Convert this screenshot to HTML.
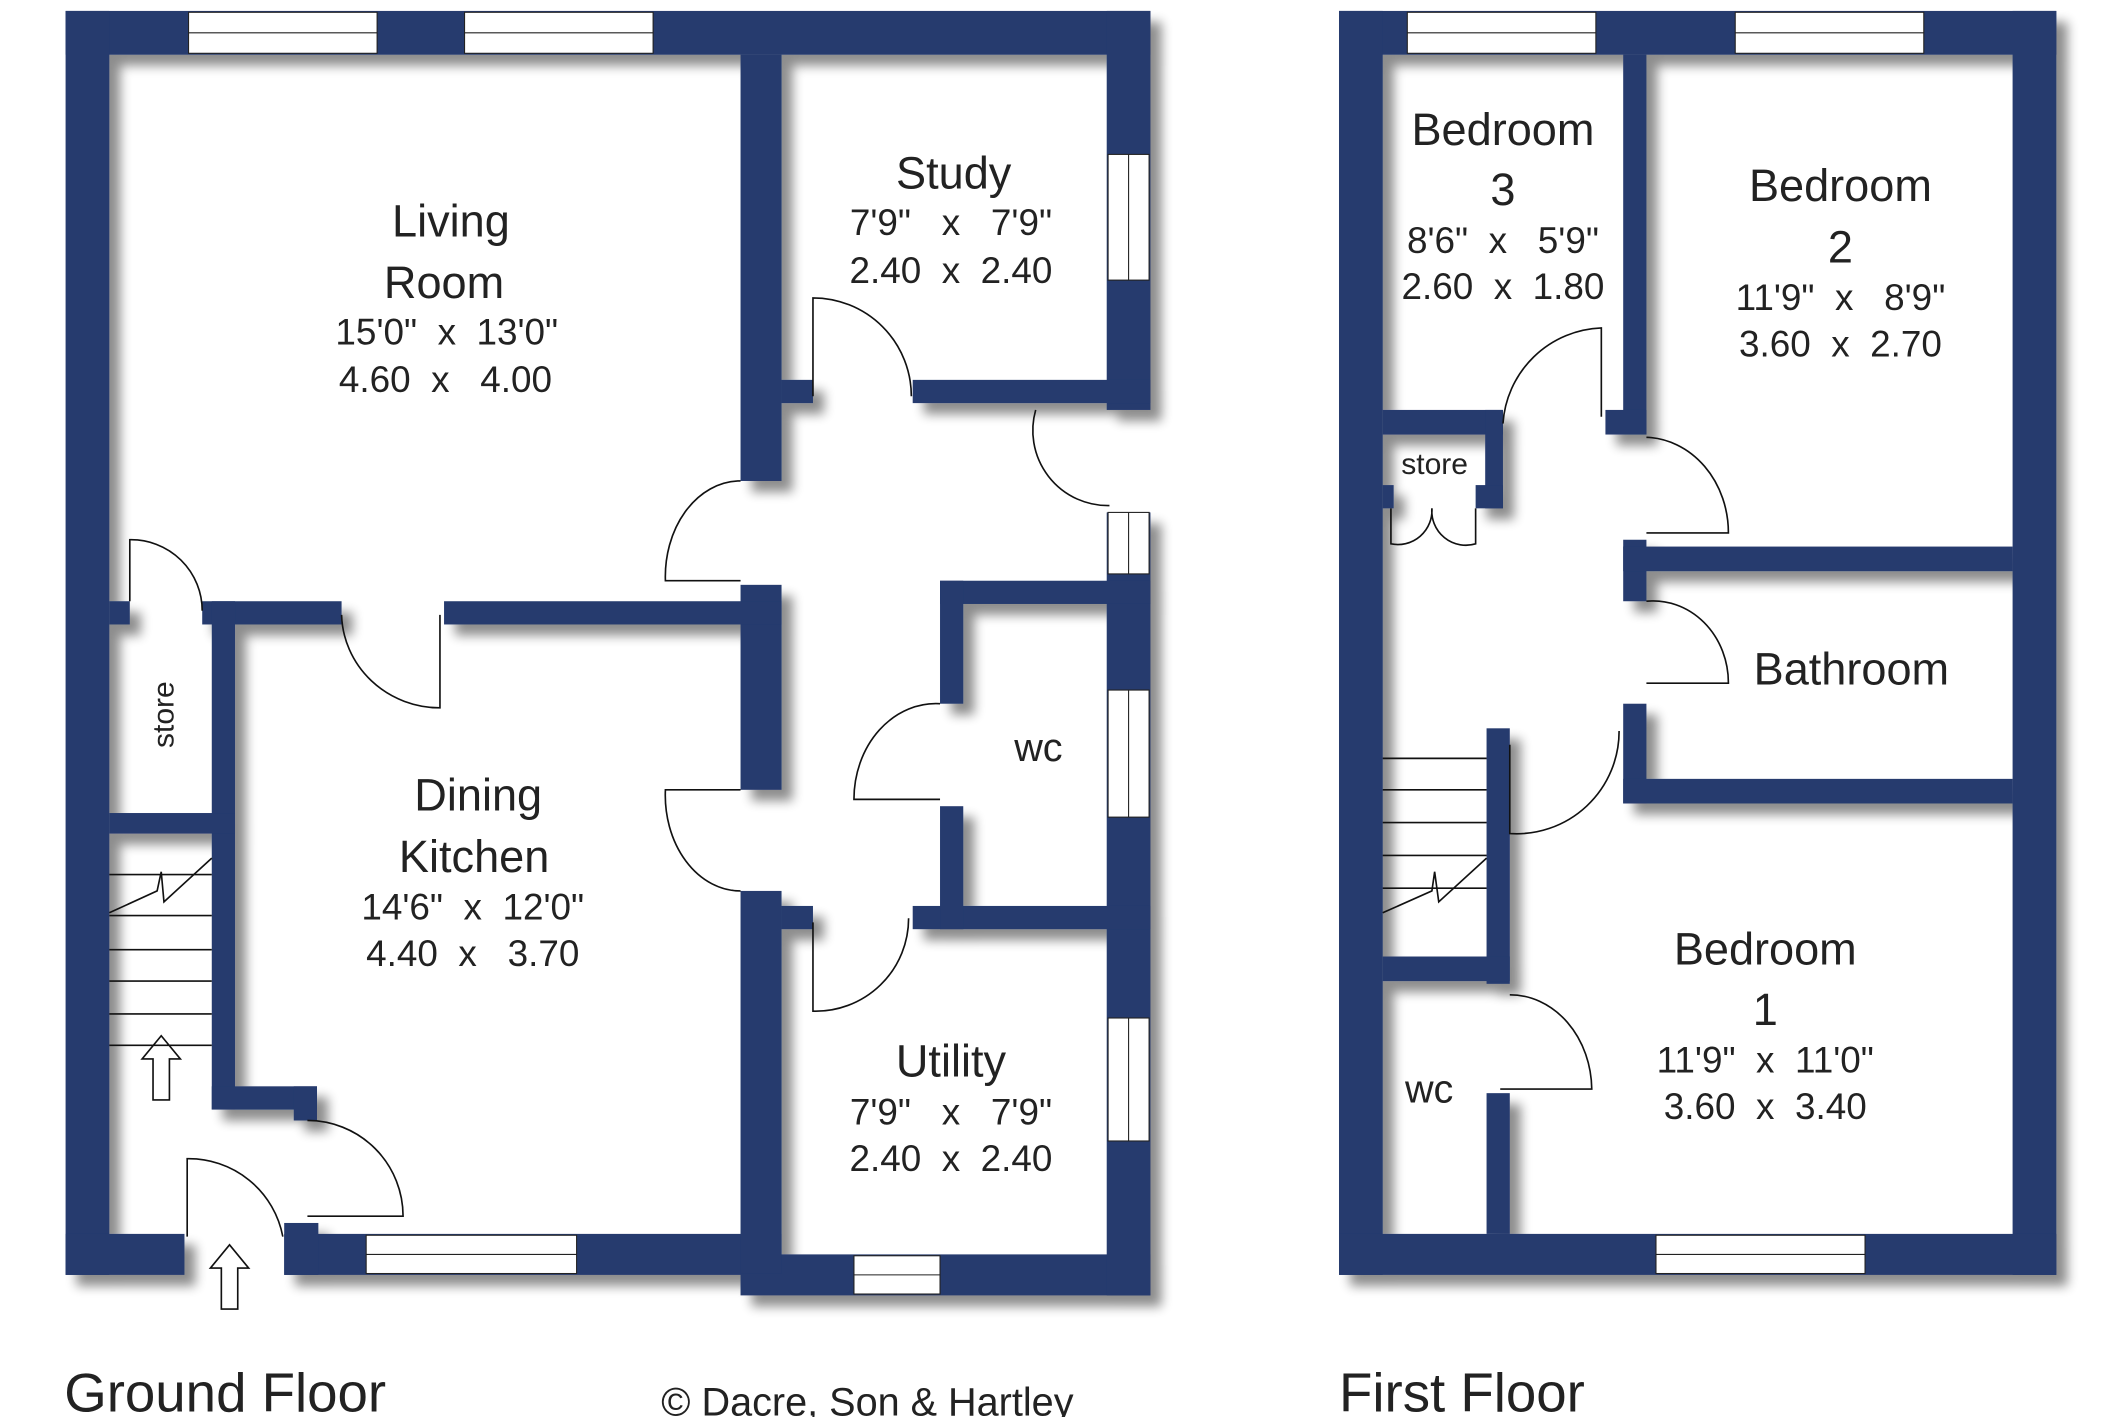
<!DOCTYPE html>
<html><head><meta charset="utf-8"><style>
html,body{margin:0;padding:0;background:#fff;}
svg{display:block;}
text{font-family:"Liberation Sans","DejaVu Sans",sans-serif;fill:#222;white-space:pre;}
</style></head><body>
<svg width="2126" height="1417" viewBox="0 0 1556 1037" preserveAspectRatio="none" xmlns="http://www.w3.org/2000/svg" xml:space="preserve">
<defs>
<filter id="sh" x="-10%" y="-10%" width="130%" height="130%">
<feGaussianBlur in="SourceAlpha" stdDeviation="4"/>
<feOffset dx="8" dy="8"/>
<feComponentTransfer><feFuncA type="linear" slope="0.45"/></feComponentTransfer>
<feMerge><feMergeNode/><feMergeNode in="SourceGraphic"/></feMerge>
</filter>
</defs>
<g fill="#253a6e" filter="url(#sh)">
<rect x="48" y="8" width="794" height="32"/>
<rect x="48" y="8" width="32" height="925"/>
<rect x="48" y="903" width="87" height="30"/>
<rect x="208" y="903" width="364" height="30"/>
<rect x="542" y="918" width="300" height="30"/>
<rect x="810" y="8" width="32" height="292"/>
<rect x="810" y="375" width="32" height="573"/>
<rect x="542" y="40" width="30" height="312"/>
<rect x="572" y="278" width="23" height="17"/>
<rect x="668" y="278" width="174" height="17"/>
<rect x="542" y="428" width="30" height="150"/>
<rect x="542" y="652" width="30" height="280"/>
<rect x="572" y="663" width="23" height="17"/>
<rect x="668" y="663" width="174" height="17"/>
<rect x="688" y="425" width="154" height="17"/>
<rect x="688" y="425" width="17" height="90"/>
<rect x="688" y="590" width="17" height="90"/>
<rect x="80" y="440" width="15" height="17"/>
<rect x="148" y="440" width="102" height="17"/>
<rect x="325" y="440" width="247" height="17"/>
<rect x="155" y="440" width="17" height="372"/>
<rect x="80" y="595" width="92" height="15"/>
<rect x="155" y="795" width="77" height="17"/>
<rect x="215" y="795" width="17" height="25"/>
<rect x="208" y="895" width="25" height="38"/>
<rect x="980" y="8" width="525" height="32"/>
<rect x="980" y="8" width="32" height="925"/>
<rect x="1473" y="8" width="32" height="925"/>
<rect x="980" y="903" width="525" height="30"/>
<rect x="1188" y="40" width="17" height="278"/>
<rect x="1175" y="300" width="30" height="18"/>
<rect x="1012" y="300" width="88" height="18"/>
<rect x="1087" y="300" width="13" height="72"/>
<rect x="1080" y="355" width="20" height="17"/>
<rect x="1012" y="355" width="8" height="17"/>
<rect x="1188" y="395" width="17" height="45"/>
<rect x="1188" y="400" width="285" height="18"/>
<rect x="1188" y="515" width="17" height="73"/>
<rect x="1188" y="570" width="285" height="18"/>
<rect x="1088" y="533" width="17" height="187"/>
<rect x="1012" y="700" width="93" height="18"/>
<rect x="1088" y="800" width="17" height="103"/>
</g>
<g fill="#fff" stroke="#222" stroke-width="0.8">
<rect x="138" y="9" width="138" height="30"/><rect x="340" y="9" width="138" height="30"/>
<rect x="811" y="113" width="30" height="92"/><rect x="811" y="375" width="30" height="45"/>
<rect x="811" y="505" width="30" height="93"/><rect x="811" y="745" width="30" height="90"/>
<rect x="268" y="904" width="154" height="28"/><rect x="625" y="919" width="63" height="28"/>
<rect x="1030" y="9" width="138" height="30"/><rect x="1270" y="9" width="138" height="30"/>
<rect x="1212" y="904" width="153" height="28"/>
</g>
<g stroke="#222" stroke-width="0.8">
<line x1="138" y1="24" x2="276" y2="24"/><line x1="340" y1="24" x2="478" y2="24"/>
<line x1="826" y1="113" x2="826" y2="205"/><line x1="826" y1="375" x2="826" y2="420"/>
<line x1="826" y1="505" x2="826" y2="598"/><line x1="826" y1="745" x2="826" y2="835"/>
<line x1="268" y1="918" x2="422" y2="918"/><line x1="625" y1="933" x2="688" y2="933"/>
<line x1="1030" y1="24" x2="1168" y2="24"/><line x1="1270" y1="24" x2="1408" y2="24"/>
<line x1="1212" y1="918" x2="1365" y2="918"/>
</g>
<g fill="none" stroke="#111" stroke-width="1.2">
<path d="M595 290 V218 A72 72 0 0 1 667 290"/>
<path d="M758 300 A55 55 0 0 0 812 370"/>
<path d="M542 352 H540 A55 70 0 0 0 487 425 H542"/>
<path d="M250 450 A72 70 0 0 0 322 518 V450"/>
<path d="M95 440 V395 A52 52 0 0 1 148 447"/>
<path d="M542 578 H487 A55 70 0 0 0 542 652"/>
<path d="M688 515 A60 70 0 0 0 625 585 H688"/>
<path d="M595 675 V740 A68 68 0 0 0 665 672"/>
<path d="M225 820 A70 70 0 0 1 295 890 H225"/>
<path d="M137 905 V848 A70 70 0 0 1 207 905"/>
<path d="M1100 310 A75 75 0 0 1 1172 240 V305"/>
<path d="M1205 320 A62 70 0 0 1 1265 390 H1205"/>
<path d="M1205 440 A55 60 0 0 1 1265 500 H1205"/>
<path d="M1105 545 V610 A75 75 0 0 0 1185 535"/>
<path d="M1105 728 A60 70 0 0 1 1165 797 H1098"/>
<path d="M1018 372 V398 A25 25 0 0 0 1048 372 A25 25 0 0 0 1080 398 V372"/>
<line x1="80" y1="640" x2="155" y2="640"/><line x1="80" y1="670" x2="155" y2="670"/><line x1="80" y1="695" x2="155" y2="695"/><line x1="80" y1="718" x2="155" y2="718"/><line x1="80" y1="742" x2="155" y2="742"/><line x1="80" y1="765" x2="155" y2="765"/>
<path d="M80 668 L115 652 L118 638 L120 660 L155 628"/>
<path d="M112 805 V775 H104 L118 758 L132 775 H124 V805 Z"/>
<path d="M162 958 V928 H154 L168 911 L182 928 H174 V958 Z"/>
<line x1="1012" y1="555" x2="1088" y2="555"/><line x1="1012" y1="578" x2="1088" y2="578"/><line x1="1012" y1="602" x2="1088" y2="602"/><line x1="1012" y1="626" x2="1088" y2="626"/><line x1="1012" y1="650" x2="1088" y2="650"/>
<path d="M1012 668 L1048 652 L1050 638 L1053 660 L1088 628"/>
</g>
<g text-anchor="middle" font-size="33">
<text x="330" y="173">Living</text><text x="325" y="218">Room</text>
<text x="698" y="138">Study</text>
<text x="350" y="593">Dining</text><text x="347" y="638">Kitchen</text>
<text x="696" y="788">Utility</text>
<text x="1100" y="106">Bedroom</text><text x="1100" y="150">3</text>
<text x="1347" y="147">Bedroom</text><text x="1347" y="192">2</text>
<text x="1355" y="501">Bathroom</text>
<text x="1292" y="706">Bedroom</text><text x="1292" y="750">1</text>
<text x="760" y="557" font-size="29">wc</text>
<text x="1046" y="807" font-size="29">wc</text>
</g>
<g text-anchor="middle" font-size="27">
<text x="327" y="252">15'0"  x  13'0"</text><text x="326" y="287">4.60  x   4.00</text>
<text x="696" y="172">7'9"   x   7'9"</text><text x="696" y="207">2.40  x  2.40</text>
<text x="346" y="673">14'6"  x  12'0"</text><text x="346" y="707">4.40  x   3.70</text>
<text x="696" y="823">7'9"   x   7'9"</text><text x="696" y="857">2.40  x  2.40</text>
<text x="1100" y="185">8'6"  x   5'9"</text><text x="1100" y="219">2.60  x  1.80</text>
<text x="1347" y="227">11'9"  x   8'9"</text><text x="1347" y="261">3.60  x  2.70</text>
<text x="1292" y="785">11'9"  x  11'0"</text><text x="1292" y="819">3.60  x  3.40</text>
</g>
<text x="1050" y="347" font-size="22" text-anchor="middle">store</text>
<text x="0" y="0" font-size="22" text-anchor="middle" transform="translate(127 523) rotate(-90)">store</text>
<text x="47" y="1033" font-size="40">Ground Floor</text>
<text x="980" y="1033" font-size="40">First Floor</text>
<text x="484" y="1036" font-size="29">© Dacre, Son &amp; Hartley</text>
</svg>
</body></html>
